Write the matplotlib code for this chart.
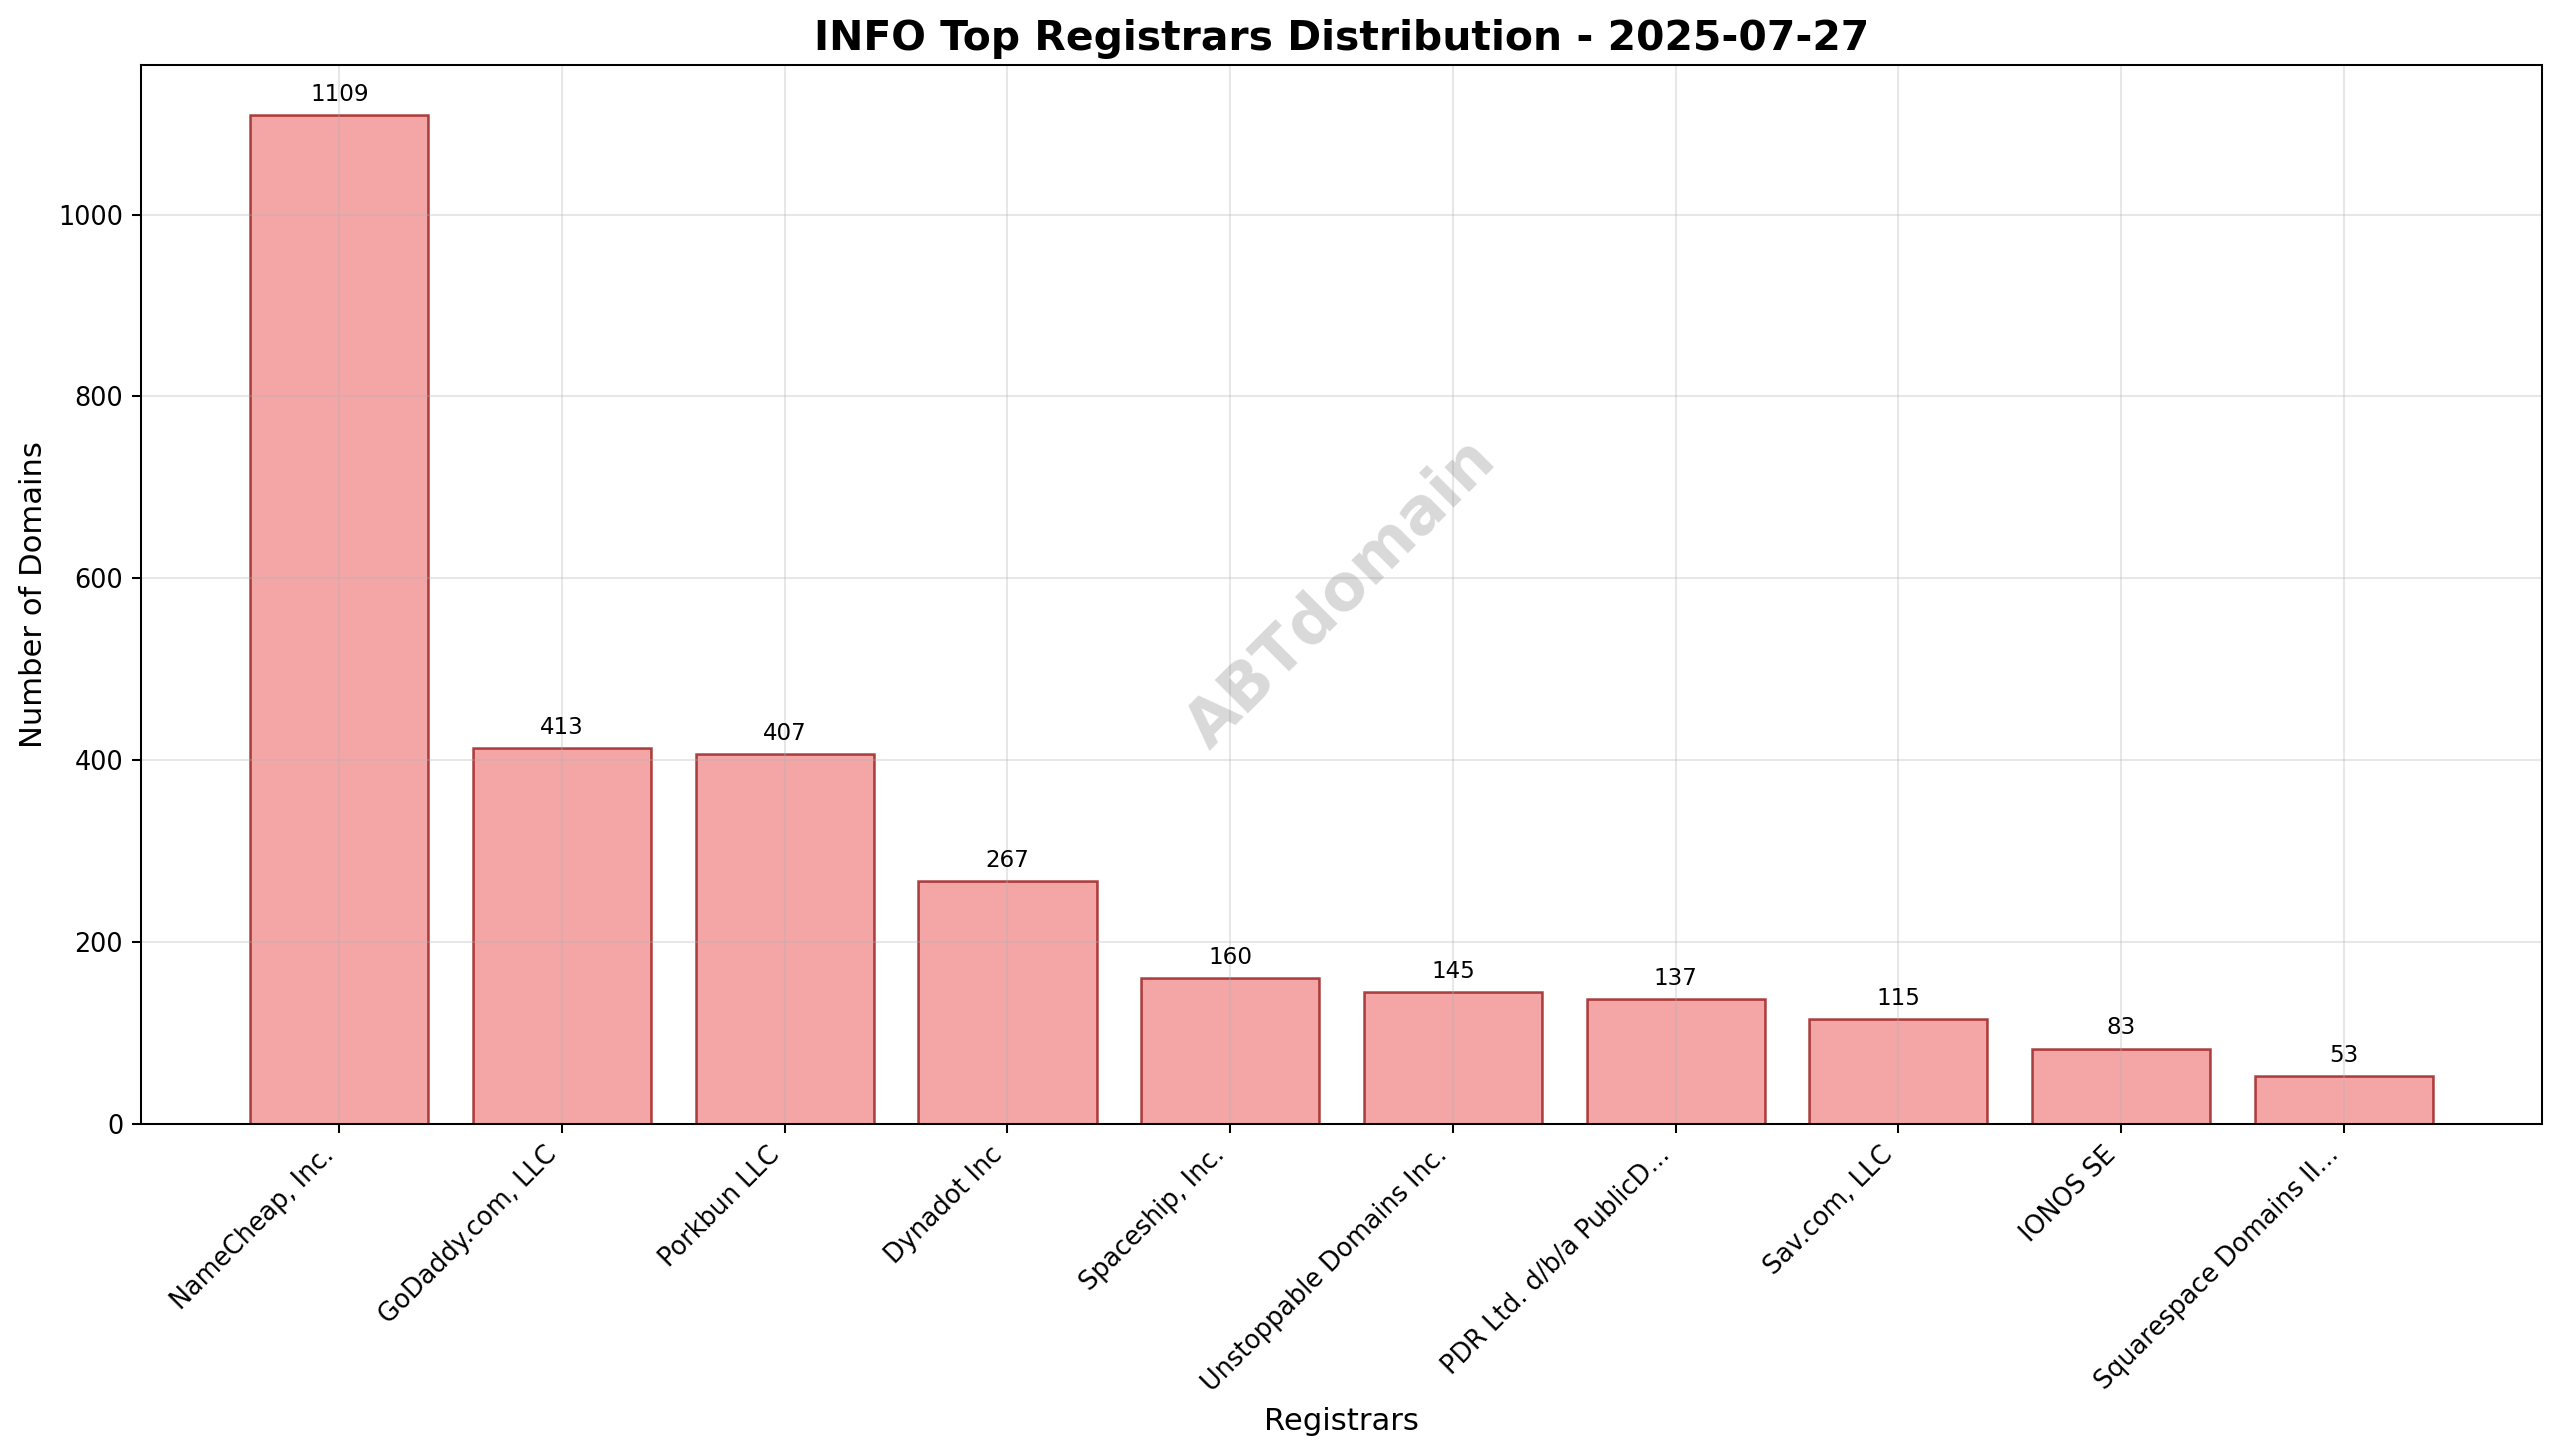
import matplotlib
matplotlib.use('Agg')
import matplotlib.pyplot as plt

registrars = ['NameCheap, Inc.', 'GoDaddy.com, LLC', 'Porkbun LLC', 'Dynadot Inc', 'Spaceship, Inc.',
              'Unstoppable Domains Inc.', 'PDR Ltd. d/b/a PublicD...', 'Sav.com, LLC', 'IONOS SE',
              'Squarespace Domains II...']
counts = [1109, 413, 407, 267, 160, 145, 137, 115, 83, 53]

fig, ax = plt.subplots(figsize=(2560 / 184, 1455 / 184))
bars = ax.bar(registrars, counts, color='lightcoral', edgecolor='darkred', alpha=0.7, linewidth=1)
for bar, count in zip(bars, counts):
    ax.annotate(str(count), (bar.get_x() + bar.get_width() / 2, count), xytext=(0, 3.6),
                textcoords='offset points', ha='center', va='bottom', fontsize=9)

ax.set_title('INFO Top Registrars Distribution - 2025-07-27', fontsize=16, fontweight='bold')
ax.set_xlabel('Registrars', fontsize=12)
ax.set_ylabel('Number of Domains', fontsize=12)
plt.xticks(rotation=45, ha='right')
ax.grid(True, alpha=0.3)
ax.text(0.5, 0.5, 'ABTdomain', transform=ax.transAxes, fontsize=25, color='gray', alpha=0.3,
        fontweight='bold', rotation=45, ha='center', va='center')
fig.subplots_adjust(left=0.0551, right=0.9930, top=0.9553, bottom=0.2275)
plt.savefig('out.png', dpi=184)
